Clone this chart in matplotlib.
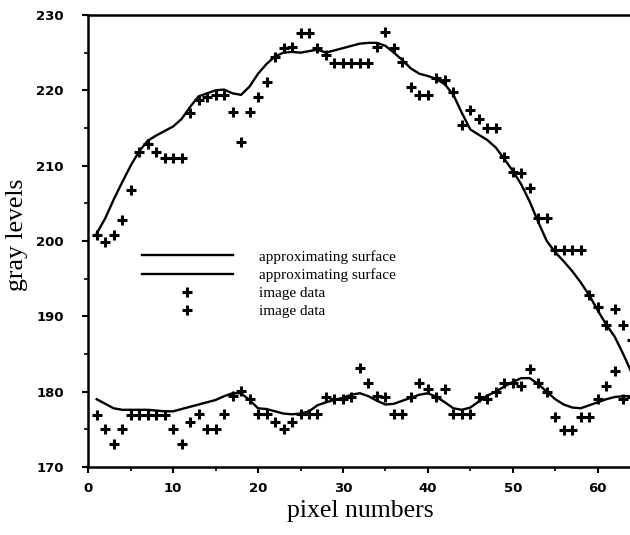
import numpy as np
import matplotlib.pyplot as plt

# pixel positions (1..64)
x = np.arange(1, 65)

# upper profile: image data and approximating surface
upper_data = [200.8, 199.9, 200.8, 202.8, 206.8, 211.8, 212.9, 211.8, 211.0, 211.0,
              211.0, 217.0, 218.7, 219.1, 219.4, 219.4, 217.1, 213.1, 217.1, 219.1,
              221.1, 224.4, 225.6, 225.8, 227.6, 227.6, 225.6, 224.7, 223.6, 223.6,
              223.6, 223.6, 223.6, 225.8, 227.7, 225.6, 223.8, 220.4, 219.4, 219.4,
              221.6, 221.4, 219.8, 215.4, 217.4, 216.2, 215.0, 215.0, 211.1, 209.1,
              209.0, 207.0, 203.0, 203.0, 198.8, 198.8, 198.8, 198.8, 192.8, 191.2,
              188.8, 191.0, 188.8, 186.8]
upper_fit = [201.0, 203.0, 205.5, 207.8, 210.0, 211.9, 213.3, 214.0, 214.6, 215.2,
             216.2, 217.8, 219.2, 219.6, 220.0, 220.1, 219.6, 219.4, 220.5, 222.2,
             223.5, 224.5, 225.0, 225.1, 225.0, 225.2, 225.4, 225.0, 225.3, 225.6,
             225.9, 226.2, 226.3, 226.3, 225.9, 225.0, 224.0, 222.9, 222.2, 221.9,
             221.5, 220.8, 219.4, 217.0, 214.8, 214.1, 213.4, 212.4, 210.9, 209.3,
             207.5, 205.2, 202.5, 200.0, 198.5, 197.3, 196.0, 194.5, 192.8, 190.8,
             188.9, 187.3, 185.0, 182.5]

# lower profile
lower_data = [176.9, 175.0, 173.0, 175.0, 176.9, 176.9, 176.9, 176.9, 176.9, 175.0,
              173.1, 176.0, 177.0, 175.0, 175.0, 177.0, 179.4, 180.1, 179.0, 177.0,
              177.0, 176.0, 175.0, 176.0, 177.0, 177.0, 177.0, 179.3, 179.0, 179.0,
              179.3, 183.1, 181.1, 179.4, 179.3, 177.0, 177.0, 179.3, 181.1, 180.3,
              179.3, 180.3, 177.0, 177.0, 177.0, 179.3, 179.0, 179.9, 181.1, 181.1,
              180.8, 183.0, 181.1, 179.9, 176.7, 174.9, 174.9, 176.7, 176.7, 179.0,
              180.8, 182.7, 179.0, 179.3]
lower_fit = [179.0, 178.4, 177.8, 177.6, 177.6, 177.6, 177.6, 177.5, 177.4, 177.4,
             177.7, 178.0, 178.3, 178.6, 178.9, 179.4, 179.8, 179.8, 178.9, 177.8,
             177.7, 177.4, 177.1, 177.0, 177.1, 177.4, 178.2, 178.6, 178.9, 179.2,
             179.6, 179.8, 179.4, 178.8, 178.3, 178.4, 178.8, 179.2, 179.6, 179.8,
             179.3, 178.6, 177.8, 177.6, 177.9, 178.7, 179.5, 180.0, 180.7, 181.3,
             181.8, 181.8, 181.0, 180.0, 179.0, 178.3, 177.9, 177.8, 178.2, 178.6,
             179.0, 179.3, 179.4, 179.4]

serif = ['Liberation Serif', 'DejaVu Serif']

fig = plt.figure(figsize=(6.3, 5.35), dpi=100)
ax = fig.add_axes([0.140, 0.127, 0.860, 0.845])

ax.plot(x, upper_fit, color='black', lw=1.7, label='approximating surface')
ax.plot(x, lower_fit, color='black', lw=1.7, label='approximating surface')
ax.plot(x, upper_data, ls='none', marker='+', ms=7, mew=2.2, color='black', label='image data')
ax.plot(x, lower_data, ls='none', marker='+', ms=7, mew=2.2, color='black', label='image data')

ax.set_xlim(0, 63.8)
ax.set_ylim(170, 230)
ax.set_xticks(np.arange(0, 61, 10))
ax.set_xticks(np.arange(5, 61, 10), minor=True)
ax.set_yticks(np.arange(170, 231, 10))
ax.set_yticks(np.arange(175, 230, 10), minor=True)
ax.tick_params(which='major', direction='out', length=4.5, width=1.5, labelsize=9.5)
ax.tick_params(which='minor', direction='out', length=3, width=1.2)
ax.tick_params(axis='y', which='major', pad=13)
ax.tick_params(axis='x', which='major', pad=6)
for lab in ax.get_xticklabels() + ax.get_yticklabels():
    lab.set_fontweight('bold')

for side in ['left', 'bottom', 'top']:
    ax.spines[side].set_linewidth(1.8)
ax.spines['right'].set_visible(False)

ax.set_xlabel('pixel numbers', fontsize=18.5, family=serif)
ax.set_ylabel('gray levels', fontsize=18.5, family=serif)
ax.xaxis.set_label_coords(0.502, -0.072)
ax.yaxis.set_label_coords(-0.111, 0.513)

ax.legend(loc='upper left', bbox_to_anchor=(0.073, 0.511), frameon=False,
          handlelength=6.0, handletextpad=1.7, labelspacing=0.3,
          prop={'family': serif, 'size': 11})

fig.savefig('out.png', dpi=100)
